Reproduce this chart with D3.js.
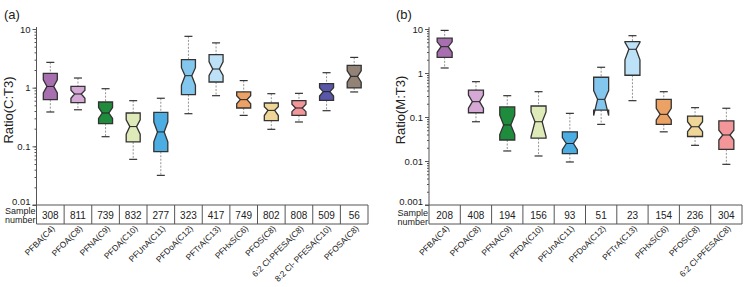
<!DOCTYPE html>
<html>
<head>
<meta charset="utf-8">
<script src="https://cdn.jsdelivr.net/npm/d3@7"></script>
<style>
  body { margin: 0; background: #fff; }
  svg { font-family: "Liberation Sans", Arial, sans-serif; }
  .whisk { stroke: #888; stroke-dasharray: 2,1.5; stroke-width: 0.9; }
  .cap { stroke: #333; stroke-width: 1.2; }
  .box { stroke: #333; stroke-width: 1.3; }
  .med { stroke: #222; stroke-width: 1; }
  .tbl { stroke: #555; stroke-width: 1; fill: none; }
  .axis path, .axis line { stroke: #555; }
</style>
</head>
<body>
<div id="chart"></div>
<script>
// panel (a): Ratio(C:T3)
var catsA = ["PFBA(C4)", "PFOA(C8)", "PFNA(C9)", "PFDA(C10)", "PFUnA(C11)", "PFDoA(C12)",
  "PFTrA(C13)", "PFHxS(C6)", "PFOS(C8)", "6:2 Cl-PFESA(C8)", "8:2 Cl- PFESA(C10)", "PFOSA(C8)"];
var nA = [308, 811, 739, 832, 277, 323, 417, 749, 802, 808, 509, 56];
var hiA  = [2.7, 1.46, 0.96, 0.6, 0.66, 7.5, 5.8, 1.32, 0.79, 0.8, 1.8, 3.28];
var q3A  = [1.75, 1.05, 0.57, 0.37, 0.38, 3.0, 3.65, 0.845, 0.548, 0.6, 1.17, 2.4];
var nhA  = [1.36, 0.905, 0.46, 0.283, 0.259, 2.19, 2.76, 0.727, 0.474, 0.52, 1.0, 1.93];
var medA = [1.05, 0.78, 0.37, 0.217, 0.176, 1.6, 2.08, 0.625, 0.41, 0.45, 0.855, 1.56];
var nlA  = [0.81, 0.658, 0.30, 0.161, 0.119, 1.10, 1.61, 0.53, 0.335, 0.39, 0.72, 1.24];
var q1A  = [0.625, 0.555, 0.244, 0.119, 0.081, 0.76, 1.25, 0.45, 0.274, 0.337, 0.608, 0.99];
var loA  = [0.385, 0.42, 0.146, 0.06, 0.032, 0.36, 0.73, 0.337, 0.195, 0.26, 0.405, 0.845];

// panel (b): Ratio(M:T3)
var catsB = ["PFBA(C4)", "PFOA(C8)", "PFNA(C9)", "PFDA(C10)", "PFUnA(C11)", "PFDoA(C12)",
  "PFTrA(C13)", "PFHxS(C6)", "PFOS(C8)", "6:2 Cl-PFESA(C8)"];
var nB = [208, 408, 194, 156, 93, 51, 23, 154, 236, 304];
var hiB  = [9.3, 0.635, 0.305, 0.376, 0.121, 1.35, 7.05, 0.376, 0.163, 0.158];
var q3B  = [6.2, 0.41, 0.169, 0.178, 0.046, 0.8, 5.15, 0.252, 0.105, 0.082];
var nhB  = [5.1, 0.316, 0.11, 0.13, 0.034, 0.4, 5.0, 0.158, 0.078, 0.05];
var medB = [3.96, 0.223, 0.066, 0.078, 0.025, 0.252, 3.46, 0.115, 0.06, 0.039];
var nlB  = [2.95, 0.158, 0.04, 0.036, 0.018, 0.108, 2.0, 0.086, 0.0465, 0.03];
var q1B  = [2.27, 0.125, 0.03, 0.033, 0.0147, 0.144, 0.89, 0.068, 0.036, 0.0184];
var loB  = [1.3, 0.078, 0.0169, 0.013, 0.0095, 0.068, 0.235, 0.046, 0.0227, 0.0084];

var colors = ["#a86fb0", "#d5a8d5", "#1f8b3d", "#dfeab9", "#4badE2", "#84c7ee",
  "#bde2f7", "#eda265", "#efd597", "#f2969a", "#5a57a8", "#938276"];

var W = 745, H = 287;
var svg = d3.select("#chart").append("svg")
    .attr("width", W)
    .attr("height", H);

function drawPanel(o) {
  var g = svg.append("g");
  var y = d3.scaleLog().domain(o.ydom).range([205, 29]);
  var x = d3.scaleBand().domain(o.cats).range(o.xr);
  var bw = o.bw;

  // minor ticks
  g.append("g")
      .attr("class", "axis")
      .attr("transform", "translate(" + o.xr[0] + ",0)")
      .call(d3.axisLeft(y).tickValues(y.ticks()).tickSize(2).tickFormat(""))
      .select(".domain").remove();

  // major ticks
  var ax = g.append("g")
      .attr("class", "axis")
      .attr("transform", "translate(" + o.xr[0] + ",0)")
      .call(d3.axisLeft(y).tickValues(o.major).tickSize(4).tickPadding(2)
        .tickFormat(function(d) { return d3.format("~g")(d); }));
  ax.select(".domain").remove();
  ax.selectAll("text").style("font-size", "9.5px").attr("fill", "#222");
  // lowest label sits just above the table line
  ax.selectAll("text").filter(function(d) { return d === o.ydom[0]; })
      .attr("dy", "-0.05em");

  // axis line down to table bottom
  g.append("line").attr("class", "tbl")
      .attr("x1", o.xr[0]).attr("x2", o.xr[0])
      .attr("y1", 27).attr("y2", 224);

  // table
  g.append("line").attr("class", "tbl")
      .attr("x1", o.xr[0] - 4).attr("x2", o.xr[1]).attr("y1", 205).attr("y2", 205);
  g.append("line").attr("class", "tbl")
      .attr("x1", o.xr[0]).attr("x2", o.xr[1]).attr("y1", 224).attr("y2", 224);
  g.selectAll(".div").data(o.cats).enter().append("line")
      .attr("class", "tbl")
      .attr("x1", function(d) { return x(d) + x.bandwidth(); })
      .attr("x2", function(d) { return x(d) + x.bandwidth(); })
      .attr("y1", 205).attr("y2", 224);
  g.selectAll(".num").data(o.n).enter().append("text")
      .attr("x", function(d, i) { return x(o.cats[i]) + x.bandwidth() / 2; })
      .attr("y", 218.5)
      .attr("text-anchor", "middle")
      .style("font-size", "10px")
      .attr("fill", "#222")
      .text(function(d) { return d; });
  g.append("text")
      .attr("x", o.xr[0] - 1).attr("y", o.sy)
      .attr("text-anchor", "end").style("font-size", "9px").attr("fill", "#222")
      .text("Sample");
  g.append("text")
      .attr("x", o.xr[0] - 1).attr("y", o.sy + 9.5)
      .attr("text-anchor", "end").style("font-size", "9px").attr("fill", "#222")
      .text("number");

  // category labels
  g.selectAll(".lab").data(o.cats).enter().append("text")
      .attr("transform", function(d) {
        return "translate(" + (x(d) + x.bandwidth() / 2 + 5) + ",229) rotate(-45)";
      })
      .attr("text-anchor", "end")
      .style("font-size", "8.4px")
      .attr("fill", "#222")
      .text(function(d) { return d; });

  // titles
  g.append("text")
      .attr("transform", "translate(" + o.tx + ",110) rotate(-90)")
      .attr("text-anchor", "middle")
      .style("font-size", "13px")
      .attr("fill", "#222")
      .text(o.title);
  g.append("text")
      .attr("x", o.lx).attr("y", 19)
      .style("font-size", "13px")
      .attr("fill", "#222")
      .text(o.label);

  // boxes
  o.cats.forEach(function(c, i) {
    var cx = x(c) + x.bandwidth() / 2;
    var L = cx - bw / 2, R = cx + bw / 2;
    var waist = bw * 0.26;
    var yq3 = y(o.q3[i]), yq1 = y(o.q1[i]), ym = y(o.med[i]);
    var ynh = y(o.nh[i]), ynl = y(o.nl[i]);

    // whiskers
    g.append("line").attr("class", "whisk")
        .attr("x1", cx).attr("x2", cx).attr("y1", y(o.hi[i])).attr("y2", yq3);
    g.append("line").attr("class", "whisk")
        .attr("x1", cx).attr("x2", cx).attr("y1", yq1).attr("y2", y(o.lo[i]));
    g.append("line").attr("class", "cap")
        .attr("x1", cx - 4).attr("x2", cx + 4).attr("y1", y(o.hi[i])).attr("y2", y(o.hi[i]));
    g.append("line").attr("class", "cap")
        .attr("x1", cx - 4).attr("x2", cx + 4).attr("y1", y(o.lo[i])).attr("y2", y(o.lo[i]));

    var pts = [
      [L, yq3], [R, yq3], [R, ynh], [R - waist, ym], [R, ynl], [R, yq1],
      [L, yq1], [L, ynl], [L + waist, ym], [L, ynh]
    ];
    g.append("path").attr("class", "box")
        .attr("d", d3.line()(pts) + "Z")
        .attr("fill", colors[i]);
    g.append("line").attr("class", "med")
        .attr("x1", L + waist).attr("x2", R - waist).attr("y1", ym).attr("y2", ym);
  });
}

drawPanel({
  cats: catsA, n: nA, hi: hiA, q3: q3A, nh: nhA, med: medA, nl: nlA, q1: q1A, lo: loA,
  ydom: [0.01, 10], major: [0.01, 0.1, 1, 10], xr: [36.5, 368], bw: 14,
  title: "Ratio(C:T3)", label: "(a)", lx: 4, tx: 13, sy: 213.5
});

drawPanel({
  cats: catsB, n: nB, hi: hiB, q3: q3B, nh: nhB, med: medB, nl: nlB, q1: q1B, lo: loB,
  ydom: [0.001, 10], major: [0.001, 0.01, 0.1, 1, 10], xr: [429, 742], bw: 15,
  title: "Ratio(M:T3)", label: "(b)", lx: 396, tx: 405, sy: 215.5
});
</script>
</body>
</html>
